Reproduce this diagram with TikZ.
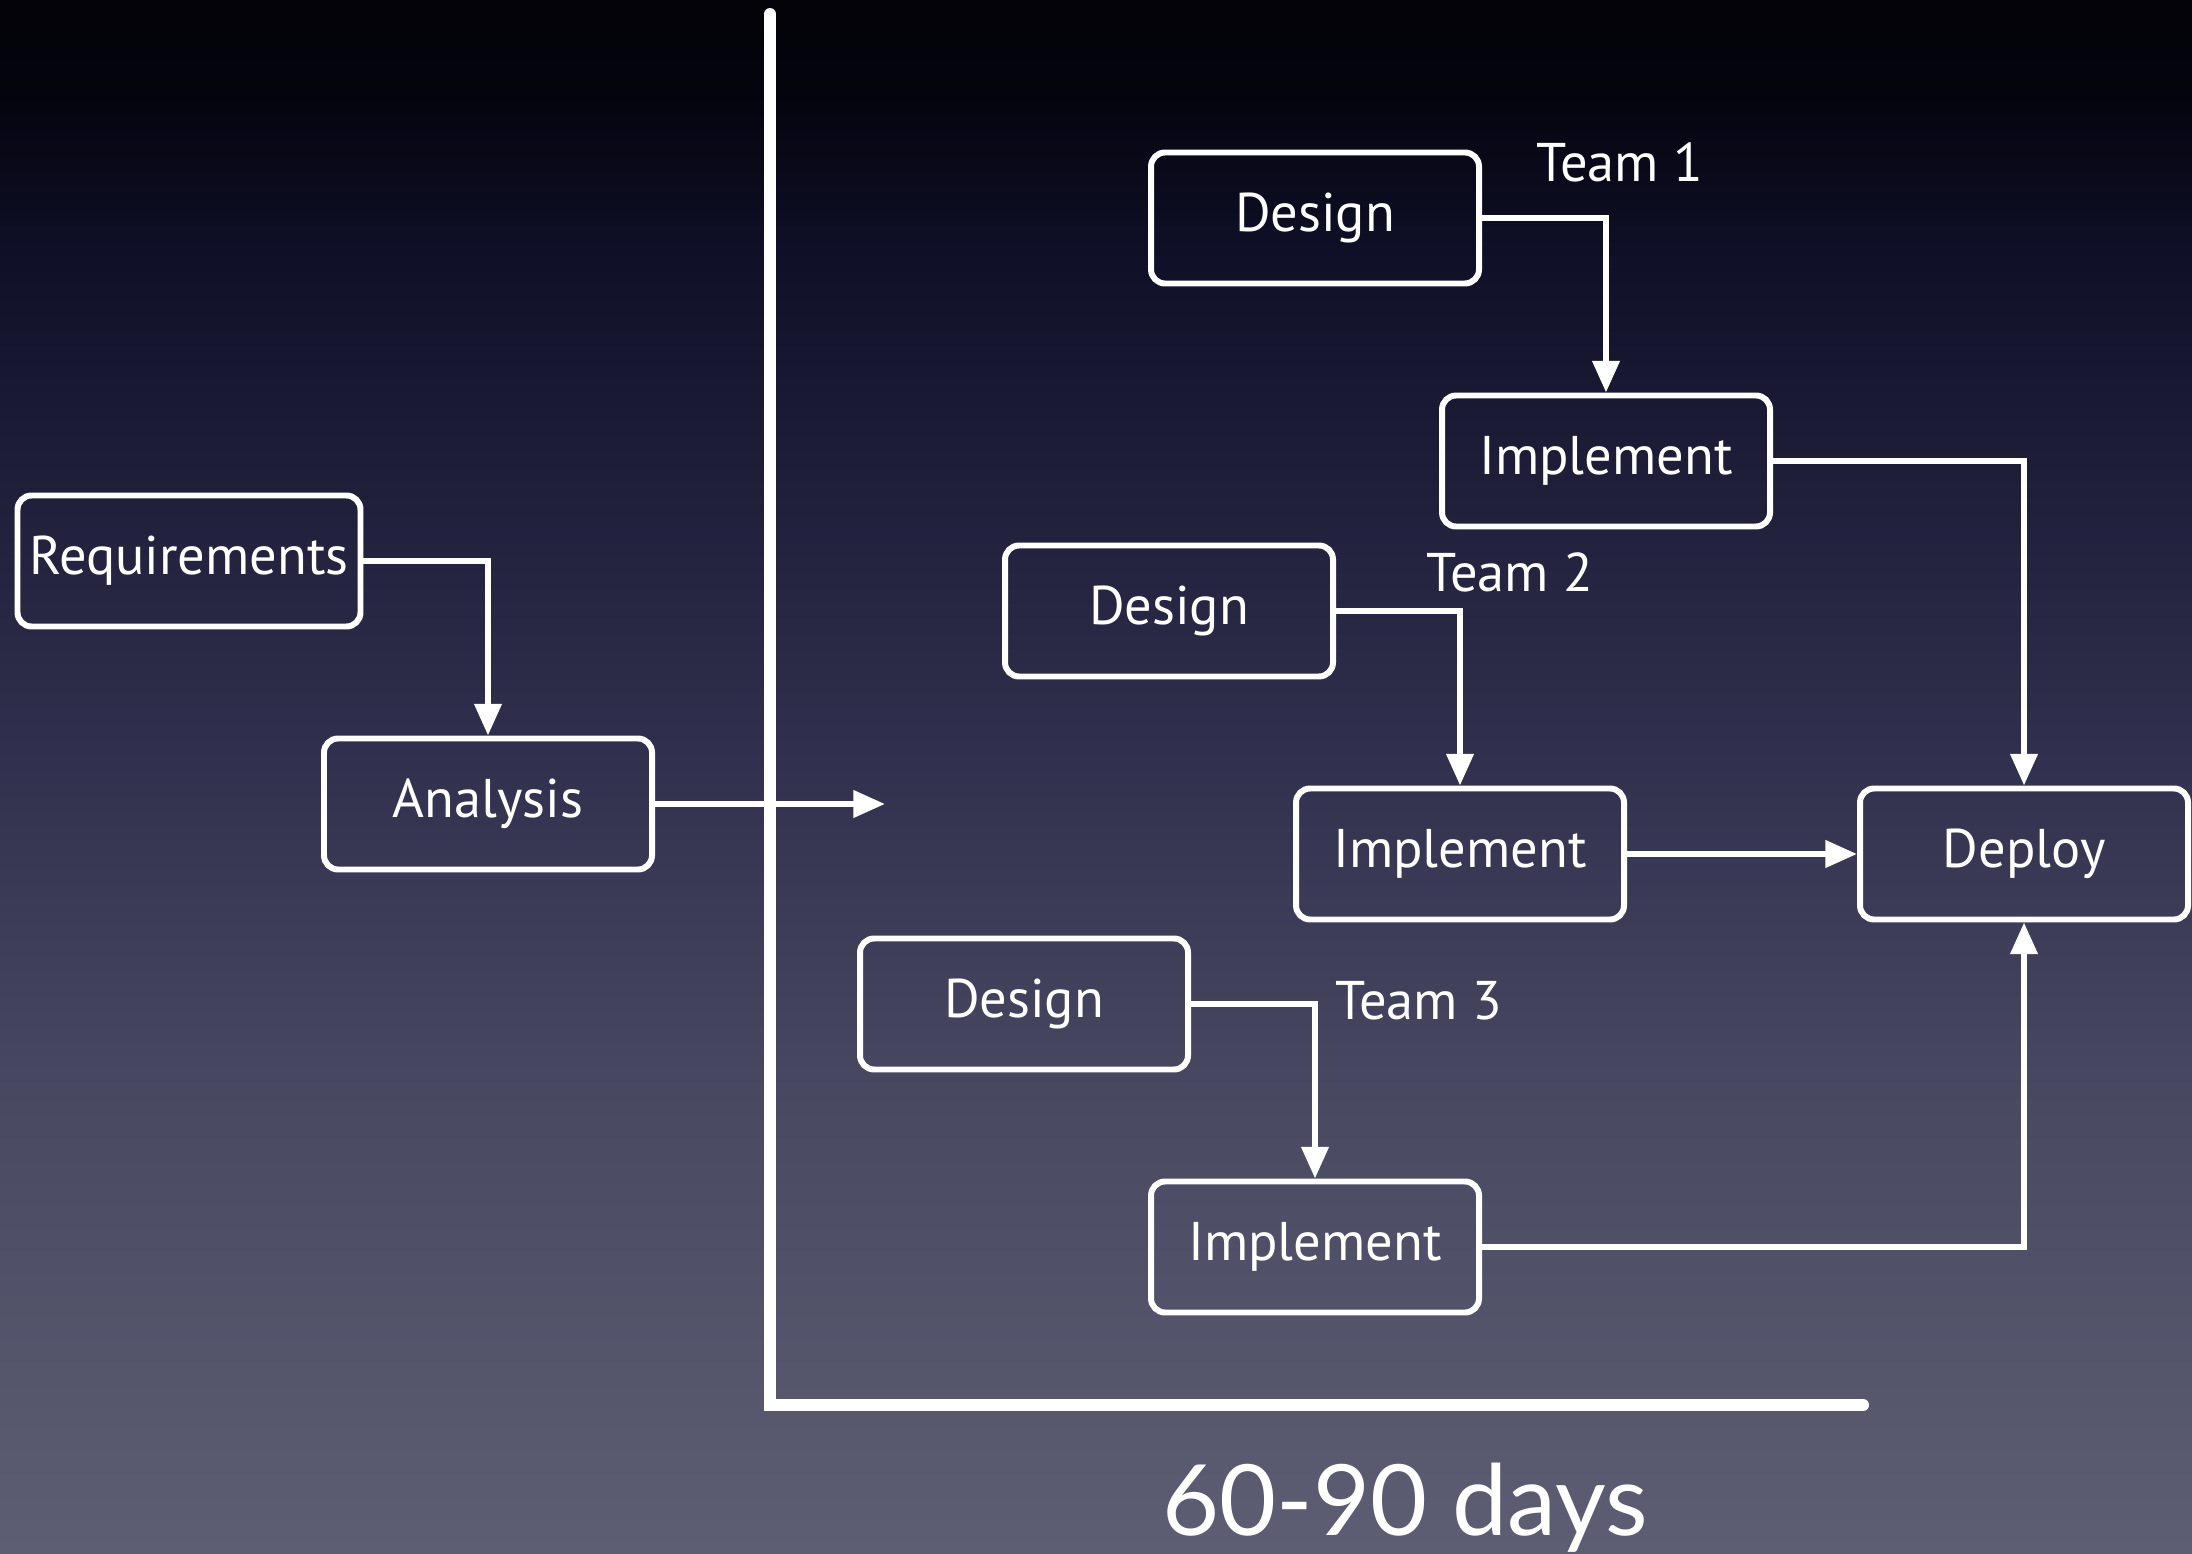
\documentclass[tikz,border=0pt]{standalone}
\usepackage{fontspec}
\setsansfont{PT Sans}
\newfontfamily\daysfont{Lato}
\usetikzlibrary{positioning, arrows.meta, calc}
% slide backdrop: navy black at the top, slate at the bottom
% (path box maps onto 25bp..75bp of the shading)
\pgfdeclareverticalshading{slidebg}{100bp}{%
  rgb(0bp)=(0.365,0.365,0.451); rgb(25bp)=(0.365,0.365,0.451);
  rgb(39.5bp)=(0.286,0.286,0.384); rgb(51bp)=(0.188,0.188,0.306);
  rgb(67bp)=(0.059,0.059,0.153); rgb(72bp)=(0.016,0.016,0.055);
  rgb(75bp)=(0.01,0.01,0.03); rgb(100bp)=(0.01,0.01,0.03)}

\begin{document}
\begin{tikzpicture}[
  font=\sffamily,
  stage/.style={draw=white, line width=1.7pt, rounded corners=4pt, text=white,
    minimum width=3.28cm, minimum height=1.31cm, inner sep=2pt,
    font=\sffamily\fontsize{15.5}{19}\selectfont},
  flow/.style={draw=white, line width=1.7pt, -{Triangle[length=9pt, width=7.5pt]}},
  team/.style={text=white, font=\sffamily\fontsize{15.5}{19}\selectfont},
]

% --- background
\shade[shading=slidebg] (0,0) rectangle (21.92,-15.54);
\useasboundingbox (0,0) rectangle (21.92,-15.54);

% --- up-front phase
\node[stage, minimum width=3.43cm] (req) at (1.89,-5.61) {Requirements};
\node[stage] (ana) at (4.88,-8.04) {Analysis};

% --- time axis
\coordinate (ytop) at (7.70,-0.14);
\coordinate (orig) at (7.70,-14.05);
\coordinate (xend) at (18.63,-14.05);
\draw[white, line width=3.4pt, line cap=round] (ytop) -- (orig) -- (xend);
\coordinate (handoff) at (8.85,-8.04);

% --- three teams, design -> implement each
\node[stage] (d1) at (13.15,-2.18) {Design};
\node[stage] (i1) at ($(d1)+(2.91,-2.43)$) {Implement};
\node[stage] (d2) at (11.69,-6.11) {Design};
\node[stage] (i2) at ($(d2)+(2.91,-2.43)$) {Implement};
\node[stage] (d3) at (10.24,-10.04) {Design};
\node[stage] (i3) at ($(d3)+(2.91,-2.43)$) {Implement};
\node[stage] (dep) at (20.24,-8.54) {Deploy};

\node[team] (t1) at (16.20,-1.62) {Team 1};
\node[team] (t2) at (15.10,-5.72) {Team 2};
\node[team] (t3) at (14.19,-10.01) {Team 3};

% --- connectors
\draw[flow] (req.east) -| (ana.north);
\draw[flow] (ana.east) -- (handoff);
\draw[flow] (d1.east) -| (i1.north);
\draw[flow] (d2.east) -| (i2.north);
\draw[flow] (d3.east) -| (i3.north);
\draw[flow] (i1.east) -| (dep.north);
\draw[flow] (i2.east) -- (dep.west);
\draw[flow] (i3.east) -| (dep.south);

% --- duration under the axis
\node[text=white, font=\daysfont\fontsize{28}{34}\selectfont, anchor=base] (days) at (14.05,-15.35) {60-90 days};

\end{tikzpicture}
\end{document}
